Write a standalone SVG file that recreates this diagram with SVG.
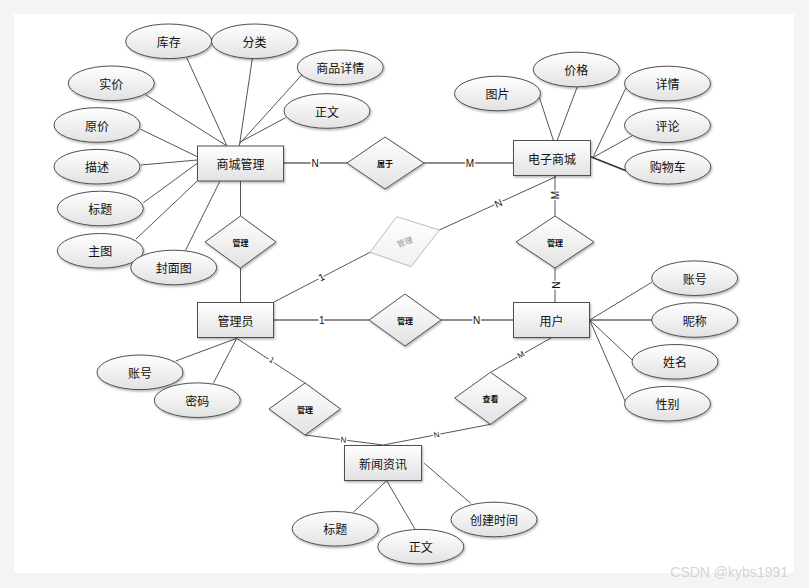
<svg xmlns="http://www.w3.org/2000/svg" width="809" height="588" viewBox="0 0 809 588">
<defs>
<linearGradient id="g" x1="0" y1="0" x2="0" y2="1"><stop offset="0" stop-color="#ffffff"/><stop offset="1" stop-color="#e2e2e2"/></linearGradient>
<linearGradient id="gf" x1="0" y1="0" x2="0" y2="1"><stop offset="0" stop-color="#ffffff"/><stop offset="1" stop-color="#f0f0f0"/></linearGradient>
<filter id="sh" x="-20%" y="-20%" width="140%" height="150%"><feDropShadow dx="1" dy="1.5" stdDeviation="0.8" flood-color="#000" flood-opacity="0.3"/></filter>
<style>
.e{fill:url(#g);stroke:#505050;stroke-width:1;filter:url(#sh)}
.r{fill:url(#g);stroke:#505050;stroke-width:1;filter:url(#sh)}
.d{fill:url(#g);stroke:#505050;stroke-width:1;filter:url(#sh)}
.t{font-family:"Noto Sans CJK SC","Noto Sans",sans-serif;font-size:12px;fill:#111;text-anchor:middle;dominant-baseline:central}
.dt{font-family:"Noto Sans CJK SC","Noto Sans",sans-serif;font-size:8px;font-weight:bold;fill:#111;text-anchor:middle;dominant-baseline:central}
.c line,.c polyline{stroke:#555;stroke-width:1;fill:none}
.c .h{stroke:#666;stroke-width:1.5}
.l{font-family:"Liberation Sans",Arial,sans-serif;font-size:10px;fill:#111;text-anchor:middle;dominant-baseline:central;stroke:#fff;stroke-width:3;paint-order:stroke}
.ls{font-size:8px}
</style>
</defs>
<rect x="0" y="0" width="809" height="588" fill="#f4f4f4"/>
<rect x="14" y="14" width="780" height="559" fill="#ffffff"/>
<g id="connectors" class="c">
<line x1="186.7" y1="57.7" x2="227" y2="146"/>
<line x1="252.3" y1="58.7" x2="239.3" y2="146"/>
<line x1="301.7" y1="75" x2="239.3" y2="144"/>
<line x1="285.7" y1="117.7" x2="240" y2="142"/>
<line x1="146" y1="95" x2="227" y2="146"/>
<line x1="140.7" y1="129.3" x2="197.3" y2="156.7"/>
<line x1="140.7" y1="165" x2="197.3" y2="160"/>
<line x1="143.3" y1="202.7" x2="197.3" y2="163.3"/>
<line x1="136" y1="239" x2="197.3" y2="181"/>
<line x1="185.7" y1="250" x2="220" y2="181"/>
<line x1="240.5" y1="181" x2="240.5" y2="216"/>
<line x1="240.5" y1="268" x2="240.5" y2="302"/>
<line class="h" x1="284" y1="163" x2="347" y2="163"/>
<line class="h" x1="424" y1="163" x2="513" y2="163"/>
<line x1="539.3" y1="97.3" x2="553.3" y2="140"/>
<line x1="577.3" y1="86.7" x2="557.3" y2="140"/>
<line x1="625.7" y1="88.3" x2="593.3" y2="156.7"/>
<line x1="632.3" y1="135.7" x2="593.3" y2="157.3"/>
<line x1="626" y1="170.7" x2="590.7" y2="156.7" style="stroke-width:1.6;stroke:#333"/>
<line x1="555" y1="176" x2="555" y2="216"/>
<line x1="555" y1="268" x2="555" y2="302"/>
<line x1="556" y1="176.7" x2="439.3" y2="230"/>
<line x1="370" y1="252.3" x2="274" y2="302"/>
<line class="h" x1="274" y1="320" x2="369" y2="320"/>
<line class="h" x1="441" y1="320" x2="513" y2="320"/>
<line x1="175.7" y1="361" x2="236.7" y2="338.3"/>
<line x1="213.3" y1="383.3" x2="236.7" y2="338.3"/>
<line x1="236.7" y1="338.3" x2="305" y2="383"/>
<polyline points="305,435 383.3,445 490.5,424.3"/>
<line x1="551" y1="338" x2="490.5" y2="372.3"/>
<line x1="353.3" y1="512.3" x2="386.7" y2="480.7"/>
<line x1="415" y1="529" x2="386.7" y2="480.7"/>
<line x1="424.3" y1="463.3" x2="470.7" y2="503.3"/>
<line x1="589.7" y1="320" x2="651.7" y2="282.3"/>
<line class="h" x1="589.7" y1="320" x2="651.7" y2="320"/>
<line x1="589.7" y1="320" x2="632.3" y2="360"/>
<line x1="589.7" y1="320" x2="625" y2="401"/>
<text class="l" x="315" y="163">N</text>
<text class="l" x="470" y="163">M</text>
<text class="l" transform="translate(555,195) rotate(-90)">M</text>
<text class="l" transform="translate(555,285) rotate(90)">N</text>
<text class="l" transform="translate(498.3,203.3) rotate(-24)">N</text>
<text class="l" transform="translate(321.5,277) rotate(-27)">1</text>
<text class="l" x="321.7" y="320">1</text>
<text class="l" x="476.7" y="320">N</text>
<text class="l ls" transform="translate(271.7,360) rotate(33)">1</text>
<text class="l ls" transform="translate(343.3,440) rotate(7)">N</text>
<text class="l ls" transform="translate(436.7,435) rotate(-11)">N</text>
<text class="l ls" transform="translate(521,355) rotate(-29)">M</text>
</g>
<g id="e-shangcheng"><rect class="r" x="197.5" y="146" width="86" height="35"/><text class="t" x="240.5" y="163.5">商城管理</text></g>
<g id="e-dianzi"><rect class="r" x="513.5" y="140.5" width="77" height="35"/><text class="t" x="552" y="158">电子商城</text></g>
<g id="e-admin"><rect class="r" x="197.5" y="302.5" width="76" height="35"/><text class="t" x="235.5" y="320">管理员</text></g>
<g id="e-user"><rect class="r" x="513.5" y="302.5" width="76" height="35"/><text class="t" x="551.5" y="320">用户</text></g>
<g id="e-news"><rect class="r" x="344.5" y="445.5" width="77" height="35"/><text class="t" x="383" y="463">新闻资讯</text></g>
<g id="r-shuyu"><polygon class="d" points="385,137 424,163 385,189 347,163"/><text class="dt" x="385" y="163">属于</text></g>
<g id="r-guanli1"><polygon class="d" points="240.5,216 276,242 240.5,268 205,242"/><text class="dt" x="240.5" y="242">管理</text></g>
<g id="r-guanli2"><polygon points="396.7,216.7 439.3,230 411,266.7 370,252.3" fill="url(#gf)" stroke="#bbbbbb" stroke-width="1"/><text class="dt" transform="translate(404.5,241.5) rotate(-20)" style="fill:#999;font-weight:normal">管理</text></g>
<g id="r-guanli3"><polygon class="d" points="555,216 594,242 555,268 516,242"/><text class="dt" x="555" y="242">管理</text></g>
<g id="r-guanli4"><polygon class="d" points="405,294 441,320 405,346 369,320"/><text class="dt" x="405" y="320">管理</text></g>
<g id="r-guanli5"><polygon class="d" points="305,383 340.5,409 305,435 269,409"/><text class="dt" x="305" y="409">管理</text></g>
<g id="r-chakan"><polygon class="d" points="490.5,372.3 526.3,398 490.5,424.3 454.7,398"/><text class="dt" x="490.5" y="398">查看</text></g>
<g id="a-kucun"><ellipse class="e" cx="168.7" cy="41.3" rx="43" ry="17.3"/><text class="t" x="168.7" y="41.3">库存</text></g>
<g id="a-fenlei"><ellipse class="e" cx="254.5" cy="41.3" rx="43" ry="17.3"/><text class="t" x="254.5" y="41.3">分类</text></g>
<g id="a-spxq"><ellipse class="e" cx="340.3" cy="67.3" rx="43" ry="17.3"/><text class="t" x="340.3" y="67.3">商品详情</text></g>
<g id="a-shijia"><ellipse class="e" cx="111.3" cy="83.3" rx="43" ry="17.3"/><text class="t" x="111.3" y="83.3">实价</text></g>
<g id="a-zhengwen1"><ellipse class="e" cx="327" cy="111" rx="43" ry="17.3"/><text class="t" x="327" y="111">正文</text></g>
<g id="a-yuanjia"><ellipse class="e" cx="97" cy="125" rx="43" ry="17.3"/><text class="t" x="97" y="125">原价</text></g>
<g id="a-miaoshu"><ellipse class="e" cx="97" cy="166.7" rx="43" ry="17.3"/><text class="t" x="97" y="166.7">描述</text></g>
<g id="a-biaoti1"><ellipse class="e" cx="100.3" cy="208.5" rx="43" ry="17.3"/><text class="t" x="100.3" y="208.5">标题</text></g>
<g id="a-zhutu"><ellipse class="e" cx="100.3" cy="250.8" rx="43" ry="17.3"/><text class="t" x="100.3" y="250.8">主图</text></g>
<g id="a-fengmian"><ellipse class="e" cx="173.7" cy="267.5" rx="43" ry="17.3"/><text class="t" x="173.7" y="267.5">封面图</text></g>
<g id="a-tupian"><ellipse class="e" cx="497.5" cy="93.5" rx="43" ry="17.3"/><text class="t" x="497.5" y="93.5">图片</text></g>
<g id="a-jiage"><ellipse class="e" cx="576.3" cy="69.5" rx="43" ry="17.3"/><text class="t" x="576.3" y="69.5">价格</text></g>
<g id="a-xiangqing"><ellipse class="e" cx="667.5" cy="83.5" rx="43" ry="17.3"/><text class="t" x="667.5" y="83.5">详情</text></g>
<g id="a-pinglun"><ellipse class="e" cx="667.5" cy="125.2" rx="43" ry="17.3"/><text class="t" x="667.5" y="125.2">评论</text></g>
<g id="a-gouwuche"><ellipse class="e" cx="667.8" cy="166.8" rx="43" ry="17.3"/><text class="t" x="667.8" y="166.8">购物车</text></g>
<g id="a-zhanghao2"><ellipse class="e" cx="694.7" cy="278.2" rx="43" ry="17.3"/><text class="t" x="694.7" y="278.2">账号</text></g>
<g id="a-nicheng"><ellipse class="e" cx="694.7" cy="320" rx="43" ry="17.3"/><text class="t" x="694.7" y="320">昵称</text></g>
<g id="a-xingming"><ellipse class="e" cx="675" cy="361.8" rx="43" ry="17.3"/><text class="t" x="675" y="361.8">姓名</text></g>
<g id="a-xingbie"><ellipse class="e" cx="667.5" cy="403.7" rx="43" ry="17.3"/><text class="t" x="667.5" y="403.7">性别</text></g>
<g id="a-zhanghao1"><ellipse class="e" cx="140" cy="372.3" rx="43" ry="17.3"/><text class="t" x="140" y="372.3">账号</text></g>
<g id="a-mima"><ellipse class="e" cx="197.3" cy="400.2" rx="43" ry="17.3"/><text class="t" x="197.3" y="400.2">密码</text></g>
<g id="a-biaoti2"><ellipse class="e" cx="335.2" cy="528.8" rx="43" ry="17.3"/><text class="t" x="335.2" y="528.8">标题</text></g>
<g id="a-zhengwen2"><ellipse class="e" cx="420.8" cy="546.7" rx="43" ry="17.3"/><text class="t" x="420.8" y="546.7">正文</text></g>
<g id="a-chuangjian"><ellipse class="e" cx="494" cy="519.5" rx="43" ry="17.3"/><text class="t" x="494" y="519.5">创建时间</text></g>
<text x="788" y="577" text-anchor="end" font-family="Liberation Sans, Arial, sans-serif" font-size="14" fill="#d4d4d4">CSDN @kybs1991</text>
</svg>
